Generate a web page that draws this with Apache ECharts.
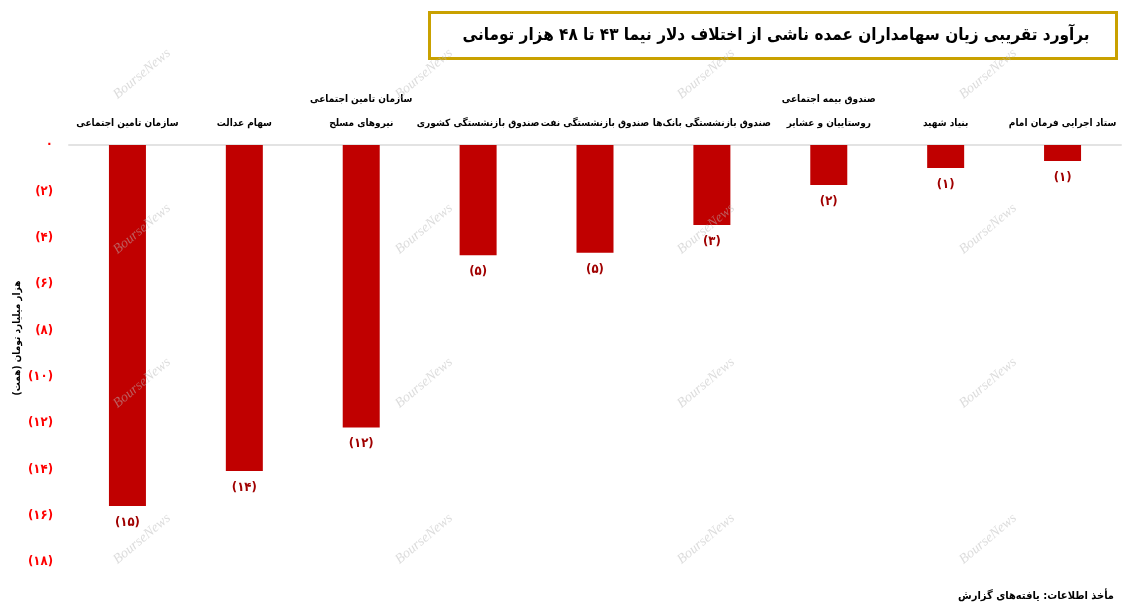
<!DOCTYPE html>
<html><head><meta charset="utf-8">
<script src="https://cdn.jsdelivr.net/npm/echarts@6/dist/echarts.min.js"></script>
<style>html,body{margin:0;padding:0;background:#fff}#c{width:1127px;height:609px}</style>
</head><body><div id="c"></div>
<script>
const categories = [
  'سازمان تامین اجتماعی',
  'سهام عدالت',
  'سازمان تامین اجتماعی\nنیروهای مسلح',
  'صندوق بازنشستگی کشوری',
  'صندوق بازنشستگی نفت',
  'صندوق بازنشستگی بانک‌ها',
  'صندوق بیمه اجتماعی\nروستاییان و عشایر',
  'بنیاد شهید',
  'ستاد اجرایی فرمان امام'
];
const lossValues = [-15.58, -14.07, -12.19, -4.76, -4.65, -3.45, -1.73, -0.99, -0.69];
const valueLabels = ['(۱۵)', '(۱۴)', '(۱۲)', '(۵)', '(۵)', '(۳)', '(۲)', '(۱)', '(۱)'];
const tickLabels = ['۰', '(۲)', '(۴)', '(۶)', '(۸)', '(۱۰)', '(۱۲)', '(۱۴)', '(۱۶)', '(۱۸)'];
const titleText = 'برآورد تقریبی زیان سهامداران عمده ناشی از اختلاف دلار نیما ۴۳ تا ۴۸ هزار تومانی';
const axisTitle = 'هزار میلیارد تومان (همت)';
const sourceText = 'مأخذ اطلاعات: یافته‌های گزارش';

const FONT = '"DejaVu Sans Condensed", "DejaVu Sans", sans-serif';
const chart = echarts.init(document.getElementById('c'));

const wm = [];
[74, 229, 383, 539].forEach(y => {
  [142, 424, 706, 988].forEach(x => {
    wm.push({
      type: 'text', x: x, y: y, rotation: Math.PI * 40 / 180, z: 100, silent: true,
      style: { text: 'BourseNews', fill: 'rgba(185,185,185,0.5)', font: 'italic 14px "Liberation Serif", serif', align: 'center', verticalAlign: 'middle' }
    });
  });
});

chart.setOption({
  animation: false,
  grid: { left: 69, right: 6, top: 145, bottom: 47 },
  xAxis: {
    type: 'category', position: 'top', data: categories,
    axisLine: { lineStyle: { color: '#e3e3e3', width: 2 } },
    axisTick: { show: false },
    axisLabel: { interval: 0, color: '#000', fontWeight: 'bold', fontSize: 10, fontFamily: FONT, lineHeight: 24, margin: 10 }
  },
  yAxis: {
    type: 'value', min: -18, max: 0, interval: 2,
    axisLine: { show: false }, axisTick: { show: false }, splitLine: { show: false },
    axisLabel: {
      color: '#ff0000', fontWeight: 'bold', fontSize: 13, fontFamily: FONT, margin: 16,
      formatter: v => tickLabels[Math.round(-v / 2)]
    }
  },
  series: [{
    type: 'bar', data: lossValues, barWidth: 37,
    itemStyle: { color: '#c00000' },
    label: {
      show: true, position: 'bottom', distance: 10, color: '#a00000', fontWeight: 'bold', fontSize: 13, fontFamily: FONT,
      formatter: p => valueLabels[p.dataIndex]
    }
  }],
  graphic: [
    { type: 'rect', shape: { x: 429.5, y: 12.5, width: 687, height: 46 }, style: { fill: '#fff', stroke: '#c9a100', lineWidth: 3 }, z: 1 },
    { type: 'text', x: 776, y: 36, z: 2, style: { text: titleText, fill: '#000', font: 'bold 17px ' + FONT, align: 'center', verticalAlign: 'middle' } },
    { type: 'text', x: 17, y: 338, rotation: Math.PI / 2, z: 2, style: { text: axisTitle, fill: '#000', font: 'bold 10px ' + FONT, align: 'center', verticalAlign: 'middle' } },
    { type: 'text', x: 1114, y: 596, z: 2, style: { text: sourceText, fill: '#000', font: 'bold 11px ' + FONT, align: 'right', verticalAlign: 'middle' } }
  ].concat(wm)
});
</script></body></html>
